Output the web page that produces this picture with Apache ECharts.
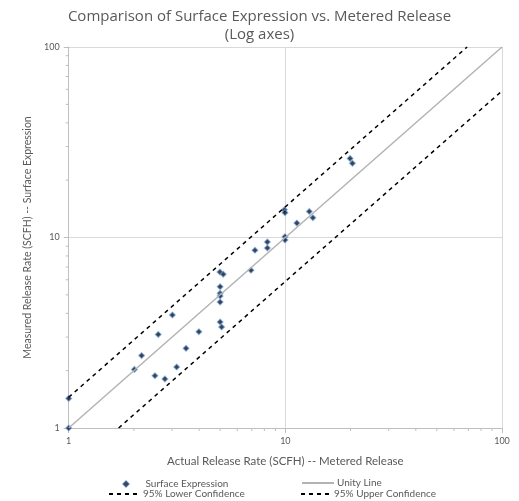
<!DOCTYPE html>
<html><head><meta charset="utf-8">
<script src="https://cdn.jsdelivr.net/npm/echarts@6/dist/echarts.min.js"></script>
<style>html,body{margin:0;padding:0;background:#fff}#c{width:519px;height:501px}</style>
</head><body><div id="c"></div>
<script>
// Surface expression points [actual, measured]
const actualRate = [1, 1, 2.01, 2.17, 2.5, 2.59, 2.78, 3.01, 3.15, 3.48, 3.99, 4.99, 5.17, 5, 5, 5, 5, 5, 5.08, 6.94, 7.24, 8.26, 8.26, 9.96, 9.96, 9.9, 9.96, 11.3, 12.9, 13.4, 19.9, 20.4];
const measuredRate = [1.0, 1.43, 2.03, 2.4, 1.88, 3.1, 1.81, 3.92, 2.09, 2.62, 3.2, 6.59, 6.41, 5.52, 5.09, 4.93, 4.58, 3.6, 3.39, 6.73, 8.57, 9.48, 8.81, 10.1, 9.71, 13.97, 13.5, 11.9, 13.7, 12.7, 26.0, 24.5];
const unityLine = [[1, 1], [100, 100]];
const lowerConf = [[1.7, 1], [100, 58.8]];
const upperConf = [[1, 1.45], [69, 100]];
const majorTicks = [1, 10, 100];
const minorTicks = [2, 3, 4, 5, 6, 7, 8, 9, 20, 30, 40, 50, 60, 70, 80, 90];

const font = 'Lato, "Open Sans", sans-serif';
const grey = '#595959';
const points = actualRate.map((x, i) => [x, measuredRate[i]]);

const chart = echarts.init(document.getElementById('c'));
function axisBase(name) {
  return {
    type: 'log', logBase: 10, min: 1, max: 100,
    name: name, nameLocation: 'middle',
    nameTextStyle: {fontFamily: font, fontSize: 11, color: grey},
    axisLine: {show: true, lineStyle: {color: '#bfbfbf', width: 1}},
    axisTick: {show: true, length: 5, lineStyle: {color: '#bfbfbf'}},
    axisLabel: {fontFamily: font, fontSize: 9, color: grey},
    splitLine: {show: true, lineStyle: {color: '#d9d9d9', width: 1}},
    minorTick: {show: false}
  };
}
const xAx = axisBase('Actual Release Rate (SCFH) -- Metered Release');
xAx.nameGap = 27; xAx.axisLabel.margin = 9;
xAx.nameTextStyle.fontSize = 11.5;
const yAx = axisBase('Measured Release Rate (SCFH) -- Surface Expression');
yAx.nameGap = 36; yAx.axisLabel.margin = 9;
yAx.nameTextStyle.fontSize = 10.5;

function legendAt(name, left, top, w, h, extra, padLeft) {
  const d = Object.assign({name: name}, extra || {});
  return {data: [d], left: left, top: top, itemWidth: w, itemHeight: h, itemGap: 0,
    textStyle: {fontFamily: font, fontSize: 10, color: grey, padding: [0,0,0,padLeft]}, padding: 0};
}
const hideSym = {itemStyle: {opacity: 0}};

chart.setOption({
  animation: false,
  backgroundColor: '#fff',
  title: {
    text: 'Comparison of Surface Expression vs. Metered Release\n(Log axes)',
    left: 'center', top: 3,
    textStyle: {fontFamily: '"Open Sans", sans-serif', fontSize: 15, fontWeight: 'normal', color: grey, lineHeight: 18}
  },
  grid: {left: 68.7, right: 17, top: 47, bottom: 73},
  xAxis: xAx,
  yAxis: yAx,
  legend: [
    legendAt('Surface Expression', 122, 479, 7, 7, {icon: 'diamond', itemStyle: {color: '#0b1a3a', borderColor: 'rgba(91,155,213,0.8)', borderWidth: 1}}, 11),
    legendAt('Unity Line', 301, 478, 32, 10, hideSym, -2),
    legendAt('95% Lower Confidence', 108, 489, 32, 10, hideSym, -3),
    legendAt('95% Upper Confidence', 300, 489, 32, 10, hideSym, -4)
  ],
  series: [
    {name: 'Unity Line', type: 'line', data: unityLine, symbol: 'none',
      lineStyle: {color: '#b3b3b3', width: 1.5}, itemStyle: {color: '#b3b3b3'}},
    {name: '95% Lower Confidence', type: 'line', data: lowerConf, symbol: 'none',
      lineStyle: {color: '#000', width: 1.5, type: [4, 4]}, itemStyle: {color: '#000'}},
    {name: '95% Upper Confidence', type: 'line', data: upperConf, symbol: 'none',
      lineStyle: {color: '#000', width: 1.5, type: [4, 4]}, itemStyle: {color: '#000'}},
    {name: 'Surface Expression', type: 'scatter', data: points, symbol: 'diamond', symbolSize: 6,
      itemStyle: {color: '#06122b', borderColor: 'rgba(120,170,225,0.75)', borderWidth: 1.2}}
  ]
});

// minor ticks at log positions (2..9), placed through the axis scales
const g = [];
const yBase = chart.convertToPixel({yAxisIndex: 0}, 1);
const xBase = chart.convertToPixel({xAxisIndex: 0}, 1);
minorTicks.forEach(v => {
  const px = chart.convertToPixel({xAxisIndex: 0}, v);
  g.push({type: 'line', shape: {x1: px, y1: yBase, x2: px, y2: yBase + 3}, style: {stroke: '#bfbfbf', lineWidth: 1}, silent: true});
  const py = chart.convertToPixel({yAxisIndex: 0}, v);
  g.push({type: 'line', shape: {x1: xBase, y1: py, x2: xBase - 3, y2: py}, style: {stroke: '#bfbfbf', lineWidth: 1}, silent: true});
});
chart.setOption({graphic: g});
</script></body></html>
